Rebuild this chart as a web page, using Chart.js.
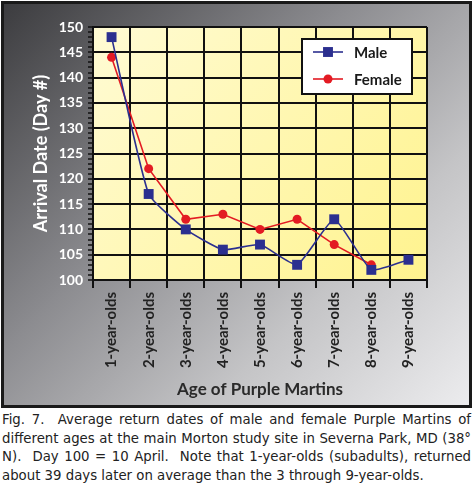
<!DOCTYPE html>
<html>
<head>
<meta charset="utf-8">
<script src="https://cdn.jsdelivr.net/npm/chart.js"></script>
<style>
  body { margin: 0; background: #fff; width: 475px; height: 488px; position: relative; overflow: hidden; }
  #frame {
    position: absolute; left: 1px; top: 1px; width: 465px; height: 401px;
    border: 3px solid #1a1a1a;
    background: linear-gradient(135deg, #3c3c3f 0%, #8c8c90 40%, #c4c4c6 70%, #ececee 100%);
  }
  #caption {
    position: absolute; left: 2px; top: 411px; width: 469px;
    font-family: "DejaVu Sans", sans-serif; font-size: 13.3px; line-height: 18.7px;
    color: #222;
  }
  #caption div { white-space: nowrap; text-align: justify; text-align-last: justify; }
  #caption div.last { text-align-last: left; }
</style>
</head>
<body>
<div id="frame"><canvas id="martinChart" width="465" height="401"></canvas></div>
<div id="caption">
  <div>Fig. 7.&nbsp; Average return dates of male and female Purple Martins of</div>
  <div>different ages at the main Morton study site in Severna Park, MD (38°</div>
  <div>N).&nbsp; Day 100 = 10 April.&nbsp; Note that 1-year-olds (subadults), returned</div>
  <div class="last">about 39 days later on average than the 3 through 9-year-olds.</div>
</div>
<script>
// dữ liệu
var ageLabels = ["1-year-olds", "2-year-olds", "3-year-olds", "4-year-olds", "5-year-olds",
                 "6-year-olds", "7-year-olds", "8-year-olds", "9-year-olds"];
var maleDays = [148, 117, 110, 106, 107, 103, 112, 102, 104];
var femaleDays = [144, 122, 112, 113, 110, 112, 107, 103, null];

var maleColor = "#2b2f8f";
var femaleColor = "#e31b23";

// nền vàng của vùng biểu đồ
var plotBackground = {
    id: "plotBackground",
    beforeDraw: function (chart) {
        var a = chart.chartArea, ctx = chart.ctx;
        var g = ctx.createLinearGradient(a.left, a.top, a.right, a.bottom);
        g.addColorStop(0, "#fffbd4");
        g.addColorStop(1, "#fff38e");
        ctx.save();
        ctx.fillStyle = g;
        ctx.fillRect(a.left, a.top, a.right - a.left, a.bottom - a.top);
        ctx.restore();
    }
};

// chú thích trong khung trắng
var boxLegend = {
    id: "boxLegend",
    afterDraw: function (chart) {
        var ctx = chart.ctx;
        var x = 298, y = 35, w = 110, h = 55;
        ctx.save();
        ctx.fillStyle = "#fff";
        ctx.fillRect(x, y, w, h);
        ctx.strokeStyle = "#111";
        ctx.lineWidth = 2;
        ctx.strokeRect(x, y, w, h);
        var rows = [
            { label: "Male", color: maleColor, style: "rect", r: 7, cy: 48 },
            { label: "Female", color: femaleColor, style: "circle", r: 4.5, cy: 75 }
        ];
        rows.forEach(function (row) {
            ctx.strokeStyle = row.color;
            ctx.lineWidth = 1.6;
            ctx.beginPath();
            ctx.moveTo(309, row.cy);
            ctx.lineTo(339, row.cy);
            ctx.stroke();
            ctx.fillStyle = row.color;
            Chart.helpers.drawPoint(ctx, { pointStyle: row.style, radius: row.r, borderWidth: 0 }, 324, row.cy);
            ctx.fillStyle = "#1a1a1a";
            ctx.font = "bold 15px Lato";
            ctx.textBaseline = "middle";
            ctx.fillText(row.label, 350, row.cy + 1);
        });
        ctx.restore();
    }
};

new Chart(document.getElementById("martinChart").getContext("2d"), {
    type: "line",
    data: {
        labels: ageLabels,
        datasets: [{
            label: "Male",
            data: maleDays,
            borderColor: maleColor,
            backgroundColor: maleColor,
            borderWidth: 1.6,
            pointStyle: "rect",
            pointRadius: 7,
            pointBorderWidth: 0,
            tension: 0.15
        }, {
            label: "Female",
            data: femaleDays,
            borderColor: femaleColor,
            backgroundColor: femaleColor,
            borderWidth: 1.6,
            pointStyle: "circle",
            pointRadius: 4.5,
            pointBorderWidth: 0,
            tension: 0
        }]
    },
    options: {
        responsive: false,
        animation: false,
        layout: { padding: { top: 23, right: 42, left: 0, bottom: 0 } },
        plugins: { legend: { display: false }, tooltip: { enabled: false } },
        scales: {
            x: {
                offset: true,
                grid: { offset: true, color: "#111", lineWidth: 2, tickLength: 8, tickWidth: 2 },
                border: { color: "#111", width: 2 },
                ticks: {
                    minRotation: 90, maxRotation: 90, padding: 4, color: "#222",
                    font: { family: "Lato", size: 15, weight: "bold" }
                },
                title: {
                    display: true, text: "Age of Purple Martins", color: "#2a2a2a",
                    font: { family: "Lato", size: 17, weight: "bold" }, padding: { bottom: 5 }
                },
                afterFit: function (scale) { scale.height = 125; }
            },
            y: {
                min: 100, max: 150,
                grid: {
                    color: function (c) { return c.tick && c.tick.value % 5 === 0 ? "#111" : "rgba(0,0,0,0)"; },
                    lineWidth: 2,
                    tickColor: "#111",
                    tickWidth: 1.5,
                    tickLength: 5
                },
                border: { color: "#111", width: 2 },
                ticks: {
                    stepSize: 1, autoSkip: false, padding: 5, color: "#fff",
                    font: { family: "Lato", size: 14, weight: "bold" },
                    callback: function (v) { return v % 5 === 0 ? v : ""; }
                },
                title: {
                    display: true, text: "Arrival Date (Day #)", color: "#fff",
                    font: { family: "Lato", size: 18, weight: "bold" }, padding: { top: 26 }
                },
                afterFit: function (scale) { scale.width = 89; }
            }
        }
    },
    plugins: [plotBackground, boxLegend]
});
</script>
</body>
</html>
